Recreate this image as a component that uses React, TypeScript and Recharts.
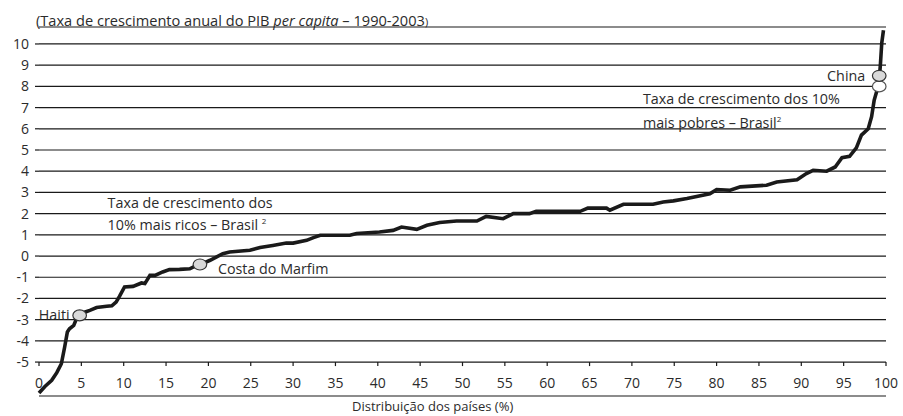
import React from 'react';
import { LineChart, Line, XAxis, YAxis, CartesianGrid, ReferenceDot, Label } from 'recharts';

// distribution of countries (%), sorted by per-capita GDP growth 1990-2003
const shares = [
  0, 0.7, 1.5, 2.1, 2.64, 3.03, 3.35, 3.6, 4.1, 4.5, 4.8, 5.4, 6.0, 6.8, 8.0, 8.6, 9.1, 9.5,
  10.1, 11.1, 12.1, 12.5, 13.1, 13.7, 14.6, 15.4, 16.6, 17.8, 18.6, 19.1, 20.2, 21.7, 22.5,
  24.9, 26.1, 27.6, 29.2, 30.0, 31.6, 32.4, 33.2, 36.7, 37.5, 40.2, 41.8, 42.8, 44.6, 45.8,
  47.3, 49.3, 51.7, 52.8, 54.8, 56.0, 57.9, 58.7, 63.9, 64.8, 67.0, 67.4, 69.0, 72.5, 73.7,
  74.9, 76.5, 79.2, 80.0, 81.6, 82.8, 85.9, 87.1, 89.5, 90.6, 91.4, 93.0, 94.0, 94.8, 95.7,
  96.5, 97.1, 97.9, 98.3, 98.6, 99.0, 99.2, 99.35, 99.5, 99.7,
];
const growth = [
  -6.46, -6.15, -5.86, -5.5, -5.08, -4.29, -3.58, -3.43, -3.27, -2.88, -2.8, -2.65, -2.56, -2.43, -2.37, -2.35, -2.17, -1.9,
  -1.46, -1.43, -1.27, -1.3, -0.91, -0.91, -0.75, -0.64, -0.63, -0.6, -0.44, -0.39, -0.2, 0.11, 0.19,
  0.27, 0.4, 0.5, 0.61, 0.61, 0.74, 0.87, 0.98, 0.98, 1.06, 1.13, 1.21, 1.37, 1.26, 1.45,
  1.58, 1.65, 1.65, 1.87, 1.76, 2.0, 2.0, 2.11, 2.11, 2.26, 2.26, 2.16, 2.44, 2.44, 2.55,
  2.6, 2.71, 2.94, 3.13, 3.1, 3.26, 3.34, 3.49, 3.6, 3.89, 4.04, 4.0, 4.2, 4.64, 4.7,
  5.1, 5.7, 6.0, 6.57, 7.34, 7.9, 8.3, 9.1, 10.05, 10.65,
];

const xTicks = [0, 5, 10, 15, 20, 25, 30, 35, 40, 45, 50, 55, 60, 65, 70, 75, 80, 85, 90, 95, 100];
const yTicks = [-5, -4, -3, -2, -1, 0, 1, 2, 3, 4, 5, 6, 7, 8, 9, 10];

const countryNames = ['Haiti', 'Costa do Marfim', 'China'];
const countryShares = [4.8, 19.0, 99.2];
const countryRates = [-2.8, -0.4, 8.5];
const brazilPoorShare = 99.2;
const brazilPoorRate = 8.0;

const data = shares.map((s, i) => ({ share: s, rate: growth[i] }));

const W = 903;
const H = 416;
const TOP = 27;
const AXIS_W = 39;
const X_AXIS_H = 20;
const Y_MIN = -6.6;
const Y_MAX = 10.8;
const AXIS_Y = TOP + ((Y_MAX + 5) / (Y_MAX - Y_MIN)) * (H - TOP - X_AXIS_H);

const FONT = '"Open Sans", sans-serif';
const INK = '#1a1a1a';
const TEXT = '#2b2b2b';

const XTick = ({ x, payload }: any) => (
  <g>
    <line x1={x} x2={x} y1={AXIS_Y} y2={AXIS_Y + 4} stroke={INK} strokeWidth={1.2} />
    <text x={x} y={AXIS_Y + 21} dy="0.35em" textAnchor="middle" fontSize={14} fill={TEXT} fontFamily={FONT}>
      {payload.value}
    </text>
  </g>
);

const bubble = (fill: string, stroke: string) => (props: any) =>
  <ellipse cx={props.cx} cy={props.cy} rx={6.8} ry={5.5} fill={fill} stroke={stroke} strokeWidth={1.2} />;

const noteContent = (lines: React.ReactNode[], lineH: number) => (props: any) => {
  const vb = props.viewBox || {};
  const x = vb.x + (vb.width || 0) / 2;
  const y = vb.y + (vb.height || 0) / 2;
  return (
    <text fontSize={14.3} fill={TEXT} fontFamily={FONT}>
      {lines.map((l, i) => (
        <tspan key={i} x={x} y={y + i * lineH} dy="0.35em">{l}</tspan>
      ))}
    </text>
  );
};

const sup = (t: string) => <tspan fontSize={8} dy={-6}>{t}</tspan>;

export default function App() {
  return (
    <div style={{ position: 'absolute', left: 0, top: 0, width: W, height: H, fontFamily: FONT, color: TEXT }}>
      <div style={{ position: 'absolute', left: 36, top: 11, fontSize: 14.6, lineHeight: '18px', whiteSpace: 'nowrap' }}>
        (Taxa de crescimento anual do PIB <i>per capita</i> – 1990-2003<span style={{ fontSize: 11 }}>)</span>
      </div>
      <LineChart width={W} height={H} data={data} margin={{ top: TOP, right: 17, bottom: 0, left: 0 }}>
        <CartesianGrid vertical={false} stroke={INK} strokeWidth={1.2} />
        <XAxis
          dataKey="share"
          type="number"
          domain={[0, 100]}
          ticks={xTicks}
          height={X_AXIS_H}
          axisLine={false}
          tickLine={false}
          tick={<XTick />}
          interval={0}
        />
        <YAxis
          type="number"
          domain={[Y_MIN, Y_MAX]}
          ticks={yTicks}
          width={AXIS_W}
          axisLine={false}
          tickLine={{ stroke: INK, strokeWidth: 1.2 }}
          tickSize={4}
          tickMargin={6}
          interval={0}
          tick={{ fontSize: 14, fill: TEXT, fontFamily: FONT }}
        />
        <Line
          dataKey="rate"
          type="linear"
          stroke={INK}
          strokeWidth={3.6}
          dot={false}
          isAnimationActive={false}
        />
        <ReferenceDot x={8.1} y={2.49} r={0} shape={() => <g />}>
          <Label content={noteContent(['Taxa de crescimento dos', <>10% mais ricos – Brasil {sup('2')}</>], 22)} />
        </ReferenceDot>
        <ReferenceDot x={71.3} y={7.39} r={0} shape={() => <g />}>
          <Label content={noteContent(['Taxa de crescimento dos 10%', <>mais pobres – Brasil{sup('2')}</>], 24)} />
        </ReferenceDot>
        <ReferenceDot x={brazilPoorShare} y={brazilPoorRate} r={6} shape={bubble('#ffffff', '#555')} />
        <ReferenceDot x={countryShares[0]} y={countryRates[0]} r={6} shape={bubble('#d9d9d9', '#333')}>
          <Label value={countryNames[0]} position="left" offset={4} fontSize={14.3} fill={TEXT} fontFamily={FONT} />
        </ReferenceDot>
        <ReferenceDot x={countryShares[1]} y={countryRates[1]} r={6} shape={bubble('#d9d9d9', '#333')}>
          <Label value={countryNames[1]} position="right" offset={12} fontSize={14.3} fill={TEXT} fontFamily={FONT} dy={4} />
        </ReferenceDot>
        <ReferenceDot x={countryShares[2]} y={countryRates[2]} r={6} shape={bubble('#d9d9d9', '#333')}>
          <Label value={countryNames[2]} position="left" offset={8} fontSize={14.3} fill={TEXT} fontFamily={FONT} />
        </ReferenceDot>
      </LineChart>
      <div style={{ position: 'absolute', left: 352, top: 397, fontSize: 13, lineHeight: '18px', whiteSpace: 'nowrap' }}>
        Distribuição dos países (%)
      </div>
    </div>
  );
}
